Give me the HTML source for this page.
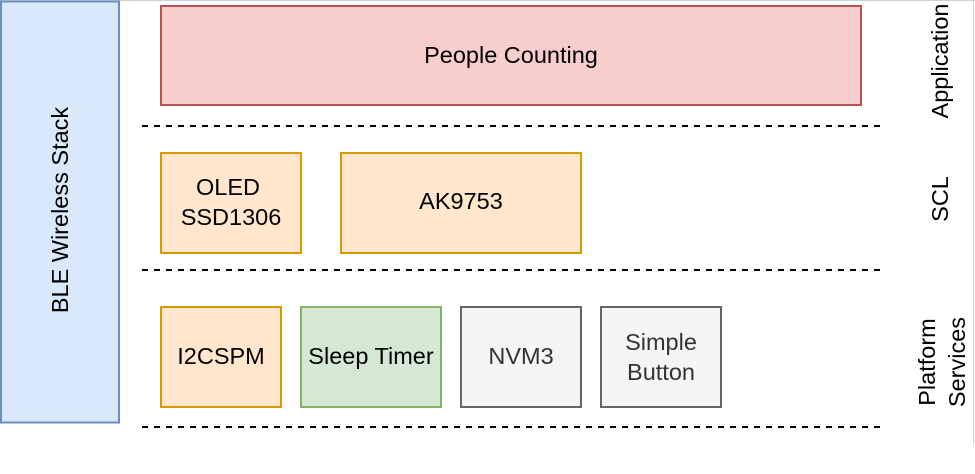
<!DOCTYPE html>
<html><head><style>body{margin:0;background:#fff}svg{display:block}text{font-family:"Liberation Sans",sans-serif;font-size:23.5px;fill:#000}</style></head>
<body>
<svg width="975" height="474" viewBox="0 0 975 474" xmlns="http://www.w3.org/2000/svg">
<rect x="0" y="0" width="975" height="474" fill="#fff"/>
<line x1="0" y1="0.5" x2="975" y2="0.5" stroke="#d0d0d0"/>
<line x1="973.5" y1="0" x2="973.5" y2="445" stroke="#d0d0d0"/>
<rect x="1" y="1.5" width="118" height="421" fill="#dae8fc" stroke="#6c8ebf" stroke-width="2"/>
<text transform="translate(68,210) rotate(-90)" text-anchor="middle">BLE Wireless Stack</text>
<rect x="161" y="6" width="700" height="99" fill="#f8cecc" stroke="#b85450" stroke-width="2"/>
<text x="511" y="63" text-anchor="middle">People Counting</text>
<g stroke="#000" stroke-width="2" stroke-dasharray="6,6">
<line x1="142" y1="126" x2="880" y2="126"/>
<line x1="142" y1="270" x2="880" y2="270"/>
<line x1="142" y1="427" x2="880" y2="427"/>
</g>
<rect x="161" y="153" width="140" height="100" fill="#ffe6cc" stroke="#d79b00" stroke-width="2"/>
<text x="228" y="195" text-anchor="middle">OLED</text>
<text x="231" y="225" text-anchor="middle">SSD1306</text>
<rect x="341" y="153" width="240" height="100" fill="#ffe6cc" stroke="#d79b00" stroke-width="2"/>
<text x="461" y="209" text-anchor="middle">AK9753</text>
<rect x="161" y="307" width="120" height="100" fill="#ffe6cc" stroke="#d79b00" stroke-width="2"/>
<text x="221" y="364" text-anchor="middle">I2CSPM</text>
<rect x="301" y="307" width="140" height="100" fill="#d5e8d4" stroke="#82b366" stroke-width="2"/>
<text x="371" y="364" text-anchor="middle">Sleep Timer</text>
<rect x="461" y="307" width="120" height="100" fill="#f5f5f5" stroke="#666" stroke-width="2"/>
<text x="521" y="364" text-anchor="middle" style="fill:#333">NVM3</text>
<rect x="601" y="307" width="120" height="100" fill="#f5f5f5" stroke="#666" stroke-width="2"/>
<text x="661" y="350" text-anchor="middle" style="fill:#333">Simple</text>
<text x="661" y="380" text-anchor="middle" style="fill:#333">Button</text>
<text transform="translate(948,61) rotate(-90)" text-anchor="middle">Application</text>
<text transform="translate(948,199) rotate(-90)" text-anchor="middle">SCL</text>
<text transform="translate(935,362) rotate(-90)" text-anchor="middle">Platform</text>
<text transform="translate(965,362) rotate(-90)" text-anchor="middle">Services</text>
</svg>
</body></html>
